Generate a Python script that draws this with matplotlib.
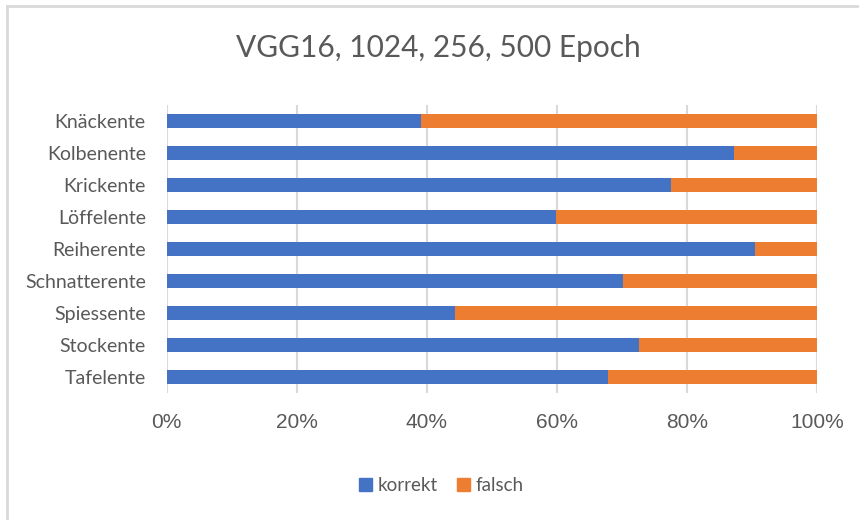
import numpy as np
import matplotlib.pyplot as plt
from matplotlib.lines import Line2D
import matplotlib.patches as mpatches

categories = ['Knäckente', 'Kolbenente', 'Krickente', 'Löffelente', 'Reiherente',
              'Schnatterente', 'Spiessente', 'Stockente', 'Tafelente']
korrekt = [39.1, 87.2, 77.6, 59.8, 90.5, 70.2, 44.3, 72.7, 67.9]
falsch = [100 - v for v in korrekt]

blue = '#4472C4'
orange = '#ED7D31'
text_col = '#595959'

plt.rcParams['font.family'] = ['Lato', 'DejaVu Sans']

fig = plt.figure(figsize=(8.59, 5.2), dpi=100)
ax = fig.add_axes([0.194, 0.244, 0.757, 0.554])

y = np.arange(len(categories))
ax.barh(y, korrekt, height=0.42, color=blue, label='korrekt', zorder=3)
ax.barh(y, falsch, left=korrekt, height=0.42, color=orange, label='falsch', zorder=3)

ax.set_ylim(len(categories) - 0.5, -0.5)
ax.set_xlim(0, 100)
ax.set_yticks(y)
ax.set_yticklabels(categories, fontsize=14, color=text_col)
ax.set_xticks(np.arange(0, 101, 20))
ax.set_xticklabels(['{}%'.format(t) for t in range(0, 101, 20)],
                   fontsize=15, color=text_col, family=['Liberation Sans', 'DejaVu Sans'])
ax.tick_params(axis='both', length=0)
ax.tick_params(axis='x', pad=14)
ax.tick_params(axis='y', pad=15)
ax.grid(axis='x', color='#D9D9D9', linewidth=1.5, zorder=0)
for s in ax.spines.values():
    s.set_visible(False)

fig.text(0.51, 0.908, 'VGG16, 1024, 256, 500 Epoch', ha='center', va='center',
         fontsize=21.5, color=text_col)

handles = [mpatches.Patch(color=blue, label='korrekt'),
           mpatches.Patch(color=orange, label='falsch')]
fig.legend(handles=handles, loc='center', bbox_to_anchor=(0.514, 0.067), ncol=2,
           frameon=False, fontsize=13.5, labelcolor=text_col,
           handlelength=0.7, handleheight=0.7, handletextpad=0.3, columnspacing=1.0)

# outer chart border (top and left visible)
fig.add_artist(Line2D([0.008, 1.0], [0.988, 0.988], color='#D9D9D9', linewidth=2,
                      transform=fig.transFigure))
fig.add_artist(Line2D([0.008, 0.008], [0.0, 0.988], color='#D9D9D9', linewidth=2,
                      transform=fig.transFigure))

fig.savefig('out.png', dpi=100)
